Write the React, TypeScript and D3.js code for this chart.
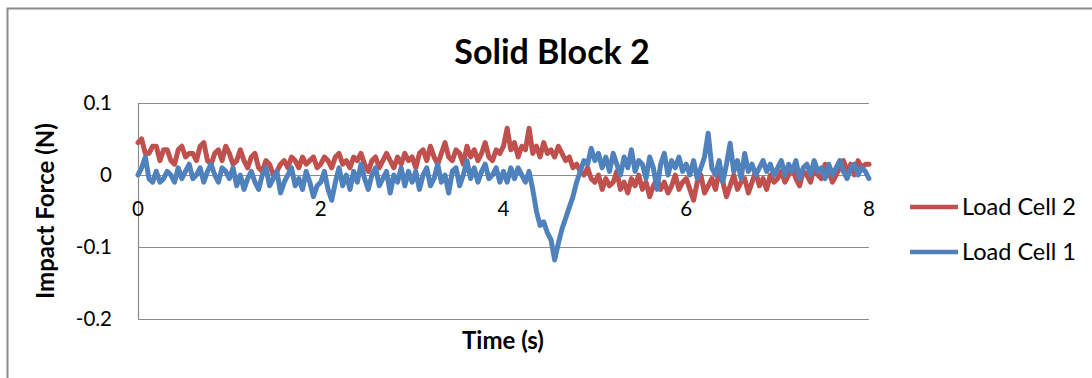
import React from "react";
import * as d3 from "d3";

const TITLE = "Solid Block 2";
const X_LABEL = "Time (s)";
const Y_LABEL = "Impact Force (N)";
const X_TICKS = [0, 2, 4, 6, 8];
const Y_TICKS = [0.1, 0, -0.1, -0.2];
const Y_TICK_LABELS = ["0.1", "0", "-0.1", "-0.2"];
const SERIES_NAMES = ["Load Cell 2", "Load Cell 1"];
const SERIES_COLORS = ["#C0504D", "#4F81BD"];
const T_STEP = 0.04;

// Load Cell 2 (red), sampled every 0.04 s from 0 to 8 s (one row per second)
const loadCell2 = [
  0.045, 0.05, 0.03, 0.03, 0.04, 0.04, 0.02, 0.035, 0.035, 0.02, 0.015, 0.035, 0.04, 0.025, 0.03, 0.03, 0.02, 0.04, 0.045, 0.02, 0.015, 0.03, 0.035, 0.02, 0.04,
  0.03, 0.015, 0.02, 0.035, 0.02, 0.01, 0.025, 0.03, 0.01, 0.005, 0.02, 0.015, 0.0, 0.005, 0.015, 0.02, 0.01, 0.025, 0.02, 0.01, 0.025, 0.015, 0.02, 0.025, 0.01,
  0.015, 0.025, 0.02, 0.01, 0.025, 0.03, 0.015, 0.02, 0.01, 0.025, 0.02, 0.03, 0.015, 0.005, 0.02, 0.025, 0.01, 0.02, 0.03, 0.02, 0.01, 0.025, 0.015, 0.03, 0.02,
  0.025, 0.01, 0.03, 0.035, 0.02, 0.04, 0.025, 0.015, 0.03, 0.045, 0.025, 0.02, 0.035, 0.03, 0.015, 0.04, 0.025, 0.035, 0.02, 0.03, 0.045, 0.025, 0.02, 0.035, 0.03,
  0.04, 0.065, 0.035, 0.045, 0.025, 0.04, 0.035, 0.065, 0.03, 0.04, 0.025, 0.045, 0.03, 0.035, 0.025, 0.04, 0.03, 0.02, 0.025, 0.01, 0.015, 0.005, 0.0, 0.01, -0.005,
  -0.01, 0.0, -0.02, -0.005, -0.015, -0.01, 0.005, -0.02, -0.01, -0.025, -0.005, -0.015, 0.0, -0.02, -0.01, -0.03, -0.015, -0.005, -0.02, -0.01, -0.025, -0.015, 0.0, -0.02, -0.01,
  -0.005, -0.02, -0.035, -0.01, 0.0, -0.025, -0.015, -0.005, -0.02, 0.005, -0.01, -0.03, -0.015, 0.0, -0.02, -0.01, -0.005, -0.025, -0.01, 0.005, -0.015, -0.005, -0.02, 0.0, -0.01,
  -0.005, 0.005, -0.01, 0.0, 0.01, -0.005, -0.015, 0.005, 0.0, -0.01, 0.01, 0.0, -0.005, 0.015, 0.005, -0.01, 0.0, 0.01, 0.02, 0.005, 0.015, 0.0, 0.02, 0.01, 0.015,
  0.015,
];

// Load Cell 1 (blue), sampled every 0.04 s from 0 to 8 s (one row per second)
const loadCell1 = [
  0.0, 0.01, 0.025, -0.005, -0.01, 0.005, -0.01, -0.005, 0.005, 0.0, -0.01, 0.01, -0.005, 0.005, 0.015, -0.005, 0.0, 0.01, -0.01, 0.005, 0.015, 0.0, -0.01, 0.01, 0.005,
  -0.005, 0.01, -0.015, 0.0, -0.02, -0.005, 0.005, -0.01, -0.02, 0.0, 0.01, -0.015, -0.005, 0.005, -0.025, -0.01, 0.0, 0.01, -0.015, -0.005, -0.02, 0.005, -0.01, -0.03, -0.015,
  -0.01, 0.005, -0.02, -0.035, -0.01, 0.01, -0.015, 0.0, -0.02, 0.005, -0.01, 0.015, -0.005, -0.02, 0.0, 0.01, -0.015, -0.005, 0.005, -0.025, 0.0, -0.01, 0.01, -0.015, 0.005,
  -0.01, 0.005, -0.02, 0.0, 0.01, -0.015, -0.005, 0.015, -0.01, 0.0, -0.025, 0.005, 0.01, -0.015, 0.0, 0.02, -0.005, 0.01, -0.01, 0.005, 0.015, -0.005, 0.0, 0.01, -0.01,
  0.005, -0.01, 0.01, -0.005, 0.01, 0.0, -0.01, 0.005, -0.02, -0.05, -0.07, -0.065, -0.08, -0.09, -0.118, -0.095, -0.075, -0.06, -0.045, -0.03, -0.01, 0.005, 0.02, 0.015, 0.037,
  0.02, 0.03, 0.01, 0.025, 0.005, 0.03, 0.015, 0.0, 0.025, 0.01, 0.035, 0.005, 0.02, 0.015, -0.005, 0.025, 0.01, -0.02, 0.015, 0.03, 0.0, 0.02, 0.01, 0.025, 0.005,
  0.015, 0.0, 0.02, -0.005, 0.01, 0.025, 0.058, 0.01, 0.0, 0.02, -0.01, 0.015, 0.044, 0.005, 0.02, -0.005, 0.03, 0.005, 0.015, 0.0, 0.01, 0.02, 0.005, 0.015, 0.0,
  0.01, 0.02, 0.0, 0.015, 0.005, 0.02, -0.005, 0.01, 0.015, 0.0, 0.02, 0.005, 0.01, -0.005, 0.015, 0.0, 0.01, 0.02, 0.005, -0.005, 0.01, 0.015, 0.0, 0.01, 0.005,
  -0.005,
];

const SERIES = [loadCell2, loadCell1];

const W = 1092;
const H = 378;
const PLOT = { left: 138, right: 869, top: 103, bottom: 319 };
const FONT = "Lato, 'Open Sans', sans-serif";

export default function App() {
  const x = d3.scaleLinear().domain([0, 8]).range([PLOT.left, PLOT.right]);
  const y = d3.scaleLinear().domain([-0.2, 0.1]).range([PLOT.bottom, PLOT.top]);
  const line = d3
    .line<number>()
    .x((_, i) => x(i * T_STEP))
    .y((v) => y(v));

  return (
    <div style={{ position: "fixed", left: 0, top: 0 }}>
      <svg width={W} height={H} style={{ display: "block", background: "#fff" }}>
        <rect x={0} y={0} width={W} height={H} fill="#fff" />
        <rect x={7.5} y={8.5} width={W + 20} height={H + 20} fill="none" stroke="#8a8a8a" strokeWidth={2} />
        <text x={552} y={64} textAnchor="middle" fontFamily={FONT} fontWeight="bold" fontSize={34} fill="#000">
          {TITLE}
        </text>
        {Y_TICKS.map((t) => (
          <line key={"g" + t} x1={PLOT.left} x2={PLOT.right} y1={Math.round(y(t)) + 0.5} y2={Math.round(y(t)) + 0.5} stroke="#8c8c8c" strokeWidth={1.2} />
        ))}
        <line x1={PLOT.left + 0.5} x2={PLOT.left + 0.5} y1={PLOT.top} y2={PLOT.bottom} stroke="#8c8c8c" strokeWidth={1.2} />
        {Y_TICKS.map((t, i) => (
          <text key={"yl" + t} x={112} y={y(t) + 7} textAnchor="end" fontFamily={FONT} fontSize={20.5} fill="#000">
            {Y_TICK_LABELS[i]}
          </text>
        ))}
        {X_TICKS.map((t) => (
          <text key={"xl" + t} x={x(t)} y={y(0) + 41} textAnchor="middle" fontFamily={FONT} fontSize={20.5} fill="#000">
            {t}
          </text>
        ))}
        {SERIES.map((s, i) => (
          <path key={"s" + i} d={line(s) || ""} fill="none" stroke={SERIES_COLORS[i]} strokeWidth={5} strokeLinejoin="round" strokeLinecap="round" />
        ))}
        <text x={503} y={349} textAnchor="middle" fontFamily={FONT} fontWeight="bold" fontSize={24} fill="#000">
          {X_LABEL}
        </text>
        <text transform={`translate(54, ${(PLOT.top + PLOT.bottom) / 2}) rotate(-90)`} textAnchor="middle" fontFamily={FONT} fontWeight="bold" fontSize={24} fill="#000">
          {Y_LABEL}
        </text>
        {SERIES_NAMES.map((n, i) => (
          <g key={"lg" + i} transform={`translate(0, ${207 + i * 45})`}>
            <line x1={910} x2={958} y1={0} y2={0} stroke={SERIES_COLORS[i]} strokeWidth={4.5} />
            <text x={962} y={8} fontFamily={FONT} fontSize={23.5} fill="#000">
              {n}
            </text>
          </g>
        ))}
      </svg>
    </div>
  );
}
